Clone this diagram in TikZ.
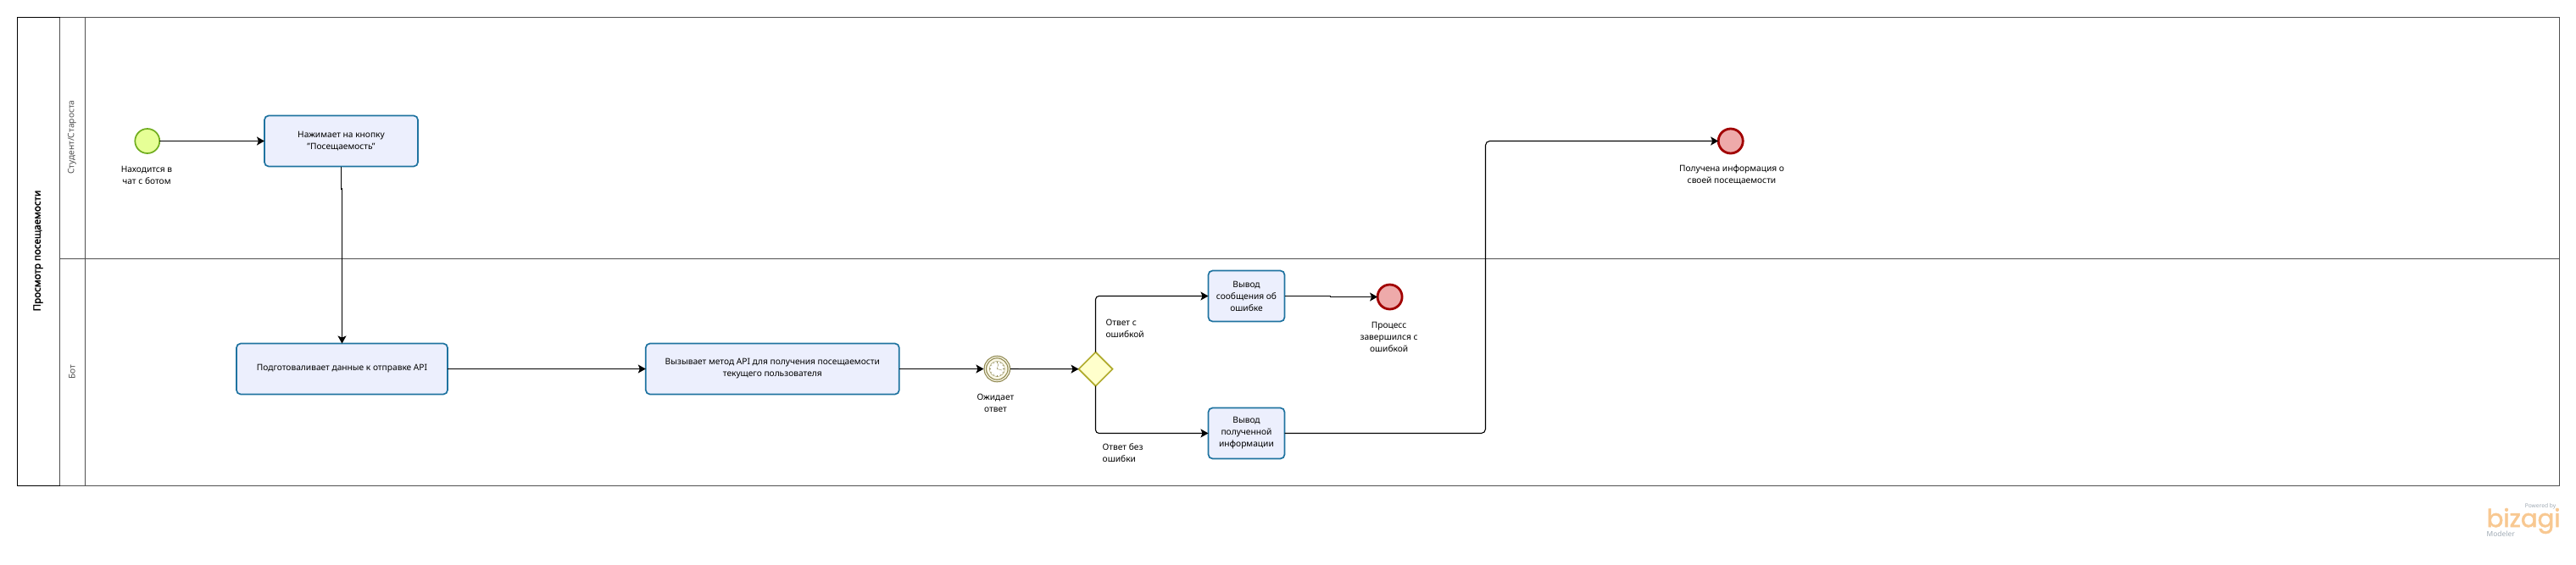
\documentclass[tikz,border=0pt]{standalone}
\usepackage{fontspec}
\setmainfont{Noto Sans}
\newfontfamily\pooltitlefont[FakeBold=2]{Noto Sans}
\newfontfamily\logofont[FakeBold=2]{Poppins}
\usetikzlibrary{arrows.meta,shapes.geometric}
\definecolor{r31g115b160}{RGB}{31,115,160}
\definecolor{r236g239b253}{RGB}{236,239,253}
\definecolor{r112g173b30}{RGB}{112,173,30}
\definecolor{r230g255b150}{RGB}{230,255,150}
\definecolor{r161g0b0}{RGB}{161,0,0}
\definecolor{r238g170b170}{RGB}{238,170,170}
\definecolor{r175g170b43}{RGB}{175,170,43}
\definecolor{r255g255b204}{RGB}{255,255,204}
\definecolor{r143g136b80}{RGB}{143,136,80}
\definecolor{r250g248b232}{RGB}{250,248,232}
\definecolor{r80g80b80}{RGB}{80,80,80}
\definecolor{r248g200b145}{RGB}{248,200,145}
\definecolor{r160g170b180}{RGB}{160,170,180}
\tikzset{
  labeltext/.style={font=\fontsize{2.9}{3.98}\selectfont,align=center,inner sep=0pt,outer sep=0pt},
  lanetext/.style={labeltext,rotate=90,text=r80g80b80},
  pooltext/.style={labeltext,rotate=90,font=\fontsize{3.3}{3.98}\pooltitlefont\selectfont},
  taskbox/.style={labeltext,draw=r31g115b160,fill=r236g239b253,line width=0.017cm,rounded corners=0.05cm,minimum height=0.60cm},
  startevent/.style={circle,draw=r112g173b30,fill=r230g255b150,line width=0.017cm,minimum size=0.29cm,inner sep=0pt,outer sep=0pt},
  endevent/.style={circle,draw=r161g0b0,fill=r238g170b170,line width=0.028cm,minimum size=0.29cm,inner sep=0pt,outer sep=0pt},
  timerevent/.style={circle,draw=r143g136b80,fill=r250g248b232,line width=0.012cm,double=r250g248b232,double distance=0.012cm,minimum size=0.28cm,inner sep=0pt,outer sep=0.018cm},
  gatebox/.style={diamond,draw=r175g170b43,fill=r255g255b204,line width=0.017cm,minimum width=0.40cm,minimum height=0.40cm,inner sep=0pt,outer sep=0pt},
  flowline/.style={line width=0.011cm,-{Stealth[length=0.09cm,width=0.10cm,inset=0.02cm]}},
  poolline/.style={line width=0.011cm,draw=r80g80b80},
}
\begin{document}
\begin{tikzpicture}
  \useasboundingbox (0,0) rectangle (30.39,6.66);

  % Drawing pool and lanes
  \draw [poolline] (0.203,0.925) rectangle (30.193,6.455);
  \draw [poolline] (0.708,0.925) -- (0.708,6.455);
  \draw [poolline] (1.006,0.925) -- (1.006,6.455);
  \draw [poolline] (0.708,3.605) -- (30.193,3.605);
  \draw [line width=0.011cm] (0.708,0.925) -- (0.203,0.925) -- (0.203,6.455) -- (0.708,6.455);

  % Pool and lane titles
  \node [pooltext] (pooltitle) at (0.45,3.70) {Просмотр посещаемости};
  \node [lanetext] (lanestudent) at (0.85,5.04) {Студент/Староста};
  \node [lanetext] (lanebot) at (0.85,2.27) {Бот};

  % Marking events
  \node [startevent] (start) at (1.738,4.995) {};
  \node [endevent] (enderror) at (16.396,3.155) {};
  \node [endevent] (enddone) at (20.417,4.995) {};
  \node [timerevent] (timer) at (11.763,2.305) {};

  % Clock face of the timer
  \draw [line width=0.004cm,draw=r143g136b80,fill=white] (timer.center) circle (0.09);
  \foreach \tickangle in {0,30,...,330}
    \draw [line width=0.003cm,draw=r143g136b80] (timer.center) ++(\tickangle:0.07) -- ++(\tickangle:0.02);
  \draw [line width=0.004cm,draw=r143g136b80] (11.78,2.37) -- (timer.center) -- (11.82,2.29);

  % Drawing tasks
  \node [taskbox,minimum width=1.81cm] (pressbutton) at (4.025,4.995) {Нажимает на кнопку\\"Посещаемость"};
  \node [taskbox,minimum width=2.49cm] (preparedata) at (4.035,2.305) {Подготоваливает данные к отправке API};
  \node [taskbox,minimum width=2.99cm] (callapi) at (9.113,2.305) {Вызывает метод API для получения посещаемости\\текущего пользователя};
  \node [taskbox,minimum width=0.90cm] (showerror) at (14.705,3.165) {Вывод\\сообщения об\\ошибке};
  \node [taskbox,minimum width=0.90cm] (showinfo) at (14.705,1.545) {Вывод\\полученной\\информации};

  % Marking gateway
  \node [gatebox] (gate) at (12.925,2.303) {};

  % Bend points
  \coordinate (bendpress) at (4.025,4.43);
  \coordinate (benderror) at (15.693,3.165);
  \coordinate (benddone) at (17.525,4.995);

  % Drawing connectors
  \draw [flowline] (start) -- (pressbutton);
  \draw [flowline] (pressbutton.south) -- (bendpress) -- (bendpress -| preparedata.north) -- (preparedata.north);
  \draw [flowline] (preparedata) -- (callapi);
  \draw [flowline] (callapi) -- (timer);
  \draw [flowline] (timer) -- (gate);
  \draw [flowline,rounded corners=0.04cm] (gate.north) |- (showerror.west);
  \draw [flowline,rounded corners=0.04cm] (gate.south) |- (showinfo.west);
  \draw [flowline] (showerror.east) -- (benderror) -- (benderror |- enderror) -- (enderror);
  \draw [flowline,rounded corners=0.05cm] (showinfo.east) -| (benddone) -- (enddone);

  % Marking labels
  \node [labeltext] (startlabel) at (1.73,4.59) {Находится в\\чат с ботом};
  \node [labeltext] (donelabel) at (20.43,4.60) {Получена информация о\\своей посещаемости};
  \node [labeltext] (errorlabel) at (16.386,2.68) {Процесс\\завершился с\\ошибкой};
  \node [labeltext] (timerlabel) at (11.744,1.90) {Ожидает\\ответ};
  \node [labeltext,anchor=west,align=left] (gatelabelup) at (13.046,2.78) {Ответ с\\ошибкой};
  \node [labeltext,anchor=west,align=left] (gatelabeldown) at (13.007,1.31) {Ответ без\\ошибки};

  % Logo
  \node [anchor=east,inner sep=0pt,text=r160g170b180,font=\fontsize{1.9}{2}\selectfont\bfseries] (logopowered) at (30.16,0.68) {Powered by};
  \node [anchor=west,inner sep=0pt,text=r248g200b145,font=\fontsize{8.3}{8.3}\logofont\selectfont] (logoname) at (29.33,0.51) {bizagi};
  \node [anchor=west,inner sep=0pt,text=r160g170b180,font=\fontsize{2.4}{2.4}\selectfont] (logomodeler) at (29.33,0.353) {Modeler};
\end{tikzpicture}
\end{document}
